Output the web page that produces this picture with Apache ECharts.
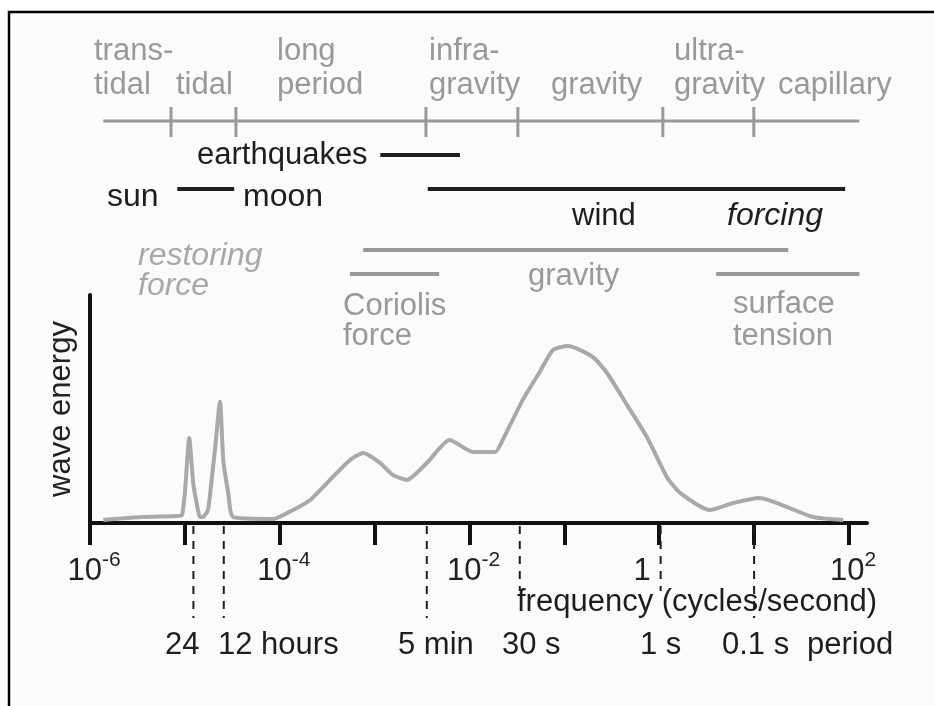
<!DOCTYPE html>
<html><head><meta charset="utf-8">
<script src="https://cdn.jsdelivr.net/npm/echarts@6/dist/echarts.min.js"></script>
<style>html,body{margin:0;padding:0;background:#fff}#c{width:934px;height:706px}</style>
</head><body><div id="c"></div>
<script>
// ---- data (x = log10 frequency in cycles/second) ----
const curveLogFreq = [-5.86,-5.45,-5.07,-5.03,-5.00,-4.954,-4.912,-4.876,-4.84,-4.81,-4.757,-4.718,-4.683,-4.63,-4.595,-4.543,-4.49,-4.07,-3.86,-3.68,-3.44,-3.26,-3.12,-2.94,-2.81,-2.66,-2.45,-2.21,-1.96,-1.73,-1.65,-1.44,-1.26,-1.12,-0.96,-0.70,-0.55,-0.34,-0.13,0.08,0.22,0.53,0.78,1.06,1.35,1.62,1.94];
const curveEnergy = [1.3,2.6,3.1,3.5,13.2,37.3,17.5,8.8,2.6,2.6,5.7,18.9,32.0,53.2,27.6,13.2,2.6,1.8,5.7,10.1,20.2,27.6,30.7,26.3,21.1,18.9,26.3,36.4,31.1,31.1,36.4,53.9,66.2,75.9,77.6,72.8,65.8,51.8,37.7,20.2,13.2,5.7,8.8,11.0,7.0,2.6,1.3];

const decadeTicks = [-6,-5,-4,-3,-2,-1,0,1,2];
const decadeLabelAt = [-6,-4,-2,0,2];
const decadeLabelText = ['10^-6','10^-4','10^-2','1','10^2'];

const periodLabels = ['24','12 hours','5 min','30 s','1 s','0.1 s'];
const periodLogFreq = [-4.91,-4.59,-2.45,-1.47,0.015,1.0];

const bandNames = ['trans-\ntidal','tidal','long\nperiod','infra-\ngravity','gravity','ultra-\ngravity','capillary'];
const bandScaleRange = [-5.86, 2.11];
const bandBoundaries = [-5.146,-4.462,-2.459,-1.490,0.038,0.997];

const forcingNames = ['earthquakes','tides','wind'];
const forcingRanges = [[-2.94,-2.10],[-5.08,-4.48],[-2.44,1.96]];
const restoringNames = ['gravity','Coriolis','surface tension'];
const restoringRanges = [[-3.12,1.36],[-3.26,-2.32],[0.60,2.11]];

// ---- layout / style (pixels) ----
const FONT = '"Liberation Sans", Arial, Helvetica, sans-serif';
const BLACK = '#1e1e1e', GRAY = '#999999', LIGHT = '#a8a8a8';
const bandLabelX = [94,176,277,429,551,674,778];
const bandRowY = [51,85];
const forcingRowY = [155,189,189];
const restoringRowY = [250,274,274];
const periodLabelX = [165,218,398,502,640,722];
const periodDashEnd = [618,618,618,591,591,618];
const SCALE_Y = 121;

function txt(text, x, y, size, color, italic) {
  return {type:'text', x:x, y:y, silent:true,
    style:{text:text, fill:color, font:(italic?'italic ':'')+size+'px '+FONT,
      align:'left', verticalAlign:'middle', textAlign:'left', textVerticalAlign:'middle'}};
}

const texts = [];
bandNames.forEach((n,i)=>{
  const lines = n.split('\n');
  lines.forEach((l,j)=>{
    const row = j + (2 - lines.length);
    texts.push(txt(l, bandLabelX[i], bandRowY[row], 31, GRAY));
  });
});
texts.push(txt('earthquakes',197,155,31,BLACK));
texts.push(txt('sun',107,197,32,BLACK));
texts.push(txt('moon',243,197,32,BLACK));
texts.push(txt('wind',572,216,31,BLACK));
texts.push(txt('forcing',727,216,32,BLACK,true));
texts.push(txt('restoring',138,256,32,LIGHT,true));
texts.push(txt('force',138,286,32,LIGHT,true));
texts.push(txt('gravity',528,276,31,GRAY));
texts.push(txt('Coriolis',343,306,31,GRAY));
texts.push(txt('force',343,336,31,GRAY));
texts.push(txt('surface',733,304,31,GRAY));
texts.push(txt('tension',733,336,31,GRAY));
texts.push(txt('frequency (cycles/second)',517,602,31,BLACK));
periodLabels.forEach((p,i)=>texts.push(txt(p, periodLabelX[i], 645, 31, BLACK)));
texts.push(txt('period',807,645,31,BLACK));

function hLineSeries(ranges, rowY, color, width) {
  return {
    type:'custom', silent:true, z:3,
    data: ranges.map((r,i)=>[r[0], r[1], i]),
    encode:{x:[0,1], y:2},
    renderItem:(params, api)=>{
      const a = api.coord([api.value(0), 0]);
      const b = api.coord([api.value(1), 0]);
      const y = rowY[api.value(2)];
      return {type:'line', shape:{x1:a[0], y1:y, x2:b[0], y2:y}, style:{stroke:color, lineWidth:width}};
    }
  };
}

const chart = echarts.init(document.getElementById('c'), null, {renderer:'canvas'});
chart.setOption({
  animation:false,
  backgroundColor:'#ffffff',
  grid:{left:90, right:67, top:295, bottom:183, outerBoundsMode:'none', containLabel:false},
  xAxis:{
    type:'value', min:-6, max:2.19,
    axisLine:{onZero:false, lineStyle:{color:'#111', width:4}},
    axisTick:{show:true, customValues:decadeTicks, length:22, lineStyle:{color:'#111', width:4}},
    splitLine:{show:false},
    axisLabel:{
      customValues:decadeLabelAt, margin:27, color:'#222',
      formatter:(v)=>{
        const t = decadeLabelText[decadeLabelAt.indexOf(Math.round(v))];
        if (t.indexOf('^') < 0) return '{one|'+t+'}';
        const p = t.split('^');
        return '{b|'+p[0]+'}{s|'+p[1]+'}';
      },
      rich:{
        b:{fontSize:31, fontFamily:FONT, color:'#222', lineHeight:34, padding:[8,0,0,8]},
        s:{fontSize:21, fontFamily:FONT, color:'#222', lineHeight:8, verticalAlign:'top'},
        one:{fontSize:31, fontFamily:FONT, color:'#222', lineHeight:34, padding:[8,34,0,0]}
      }
    }
  },
  yAxis:{
    type:'value', min:0, max:100,
    name:'wave energy', nameLocation:'middle', nameRotate:90, nameGap:13,
    nameTextStyle:{fontSize:31, fontFamily:FONT, color:'#222'},
    axisLine:{show:true, onZero:false, lineStyle:{color:'#111', width:4}},
    axisTick:{show:false}, axisLabel:{show:false}, splitLine:{show:false}
  },
  graphic:{elements:[
    {type:'rect', z:-10, silent:true, shape:{x:9, y:12, width:925, height:694}, style:{fill:'#fbfbfb'}},
    {type:'polyline', silent:true, shape:{points:[[9,706],[9,12],[934,12]]}, style:{stroke:'#000', lineWidth:2.5, fill:null}}
  ].concat(texts)},
  series:[
    {
      type:'line', name:'wave energy', showSymbol:false, smooth:0.2, z:4,
      data: curveLogFreq.map((x,i)=>[x, curveEnergy[i]]),
      lineStyle:{color:'#a9a9a9', width:4}
    },
    hLineSeries([bandScaleRange], [SCALE_Y], GRAY, 3),
    {
      type:'custom', silent:true, z:3,
      data: bandBoundaries.map(v=>[v, 0]),
      encode:{x:0, y:1},
      renderItem:(params, api)=>{
        const a = api.coord([api.value(0), 0]);
        return {type:'line', shape:{x1:a[0], y1:SCALE_Y-14, x2:a[0], y2:SCALE_Y+16}, style:{stroke:GRAY, lineWidth:3}};
      }
    },
    hLineSeries(forcingRanges, forcingRowY, BLACK, 4),
    hLineSeries(restoringRanges, restoringRowY, GRAY, 4),
    {
      type:'custom', silent:true, z:3,
      data: periodLogFreq.map((v,i)=>[v, 0, i]),
      encode:{x:0, y:1},
      renderItem:(params, api)=>{
        const a = api.coord([api.value(0), 0]);
        const end = periodDashEnd[api.value(2)];
        return {type:'line', shape:{x1:a[0], y1:a[1]+3, x2:a[0], y2:end}, style:{stroke:BLACK, lineWidth:2, lineDash:[8,7]}};
      }
    }
  ]
});
</script></body></html>
